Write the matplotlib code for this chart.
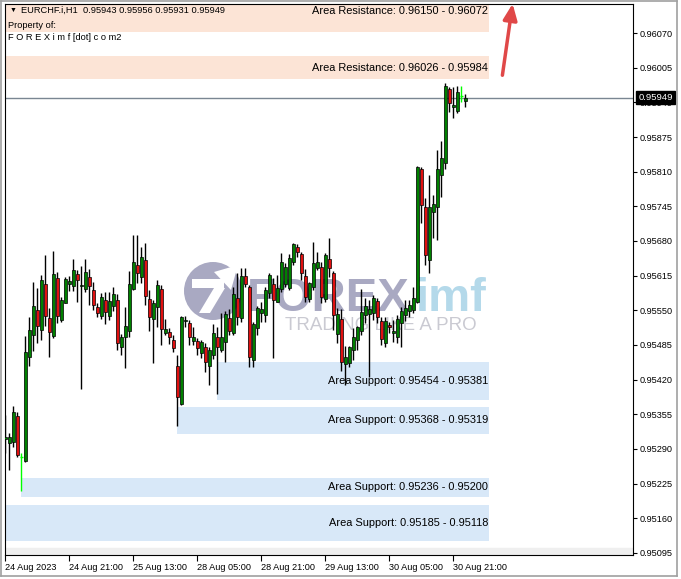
import matplotlib
matplotlib.use("Agg")
import matplotlib.pyplot as plt
import matplotlib.transforms as mtransforms
from matplotlib.patches import Rectangle, Circle, Polygon
from matplotlib.lines import Line2D

plt.rcParams["font.family"] = ["Liberation Sans", "DejaVu Sans"]

# EURCHF.i H1 candles
opens = [0.95309, 0.95301, 0.95303, 0.95352, 0.95275, 0.95268, 0.95463, 0.95504, 0.95551, 0.95513,
         0.95599, 0.95536, 0.95502, 0.95611, 0.95532, 0.95564, 0.95599, 0.95596, 0.95618, 0.95596,
         0.95590, 0.95612, 0.95588, 0.95556, 0.95539, 0.95569, 0.95539, 0.95558, 0.95569, 0.95481,
         0.95500, 0.95511, 0.95590, 0.95635, 0.95612, 0.95644, 0.95571, 0.95534, 0.95556, 0.95590,
         0.95508, 0.95509, 0.95494, 0.95446, 0.95374, 0.95530, 0.95526, 0.95493, 0.95493, 0.95470,
         0.95481, 0.95446, 0.95466, 0.95500, 0.95476, 0.95491, 0.95536, 0.95508, 0.95573, 0.95536,
         0.95614, 0.95594, 0.95457, 0.95517, 0.95545, 0.95541, 0.95583, 0.95599, 0.95566, 0.95590,
         0.95599, 0.95592, 0.95641, 0.95669, 0.95656, 0.95614, 0.95571, 0.95594, 0.95629, 0.95631,
         0.95571, 0.95646, 0.95620, 0.95506, 0.95534, 0.95449, 0.95451, 0.95476, 0.95494, 0.95511,
         0.95541, 0.95543, 0.95545, 0.95568, 0.95530, 0.95489, 0.95523, 0.95508, 0.95500, 0.95526,
         0.95541, 0.95549, 0.95551, 0.95566, 0.95815, 0.95744, 0.95644, 0.95734, 0.95744, 0.95804,
         0.95826, 0.95965, 0.95931, 0.95924, 0.95952, 0.95943]
highs = [0.95354, 0.95320, 0.95371, 0.95359, 0.95282, 0.95502, 0.95538, 0.95603, 0.95592, 0.95616,
         0.95654, 0.95554, 0.95661, 0.95622, 0.95575, 0.95612, 0.95614, 0.95646, 0.95626, 0.95633,
         0.95646, 0.95628, 0.95603, 0.95564, 0.95583, 0.95584, 0.95584, 0.95594, 0.95581, 0.95506,
         0.95556, 0.95624, 0.95691, 0.95691, 0.95669, 0.95676, 0.95588, 0.95569, 0.95607, 0.95598,
         0.95534, 0.95517, 0.95504, 0.95466, 0.95539, 0.95539, 0.95532, 0.95519, 0.95498, 0.95494,
         0.95489, 0.95481, 0.95524, 0.95519, 0.95545, 0.95549, 0.95553, 0.95594, 0.95620, 0.95629,
         0.95629, 0.95598, 0.95528, 0.95558, 0.95566, 0.95594, 0.95620, 0.95611, 0.95616, 0.95658,
         0.95639, 0.95656, 0.95676, 0.95674, 0.95659, 0.95628, 0.95603, 0.95678, 0.95659, 0.95641,
         0.95658, 0.95686, 0.95624, 0.95554, 0.95553, 0.95483, 0.95483, 0.95517, 0.95521, 0.95590,
         0.95573, 0.95569, 0.95579, 0.95573, 0.95538, 0.95538, 0.95528, 0.95532, 0.95541, 0.95556,
         0.95569, 0.95569, 0.95594, 0.95821, 0.95819, 0.95761, 0.95804, 0.95766, 0.95851, 0.95867,
         0.95976, 0.95969, 0.95969, 0.95971, 0.95971, 0.95956]
lows = [0.95282, 0.95251, 0.95294, 0.95275, 0.95211, 0.95266, 0.95446, 0.95474, 0.95489, 0.95494,
        0.95521, 0.95463, 0.95498, 0.95526, 0.95528, 0.95564, 0.95586, 0.95586, 0.95566, 0.95403,
        0.95584, 0.95560, 0.95551, 0.95538, 0.95534, 0.95524, 0.95532, 0.95549, 0.95476, 0.95466,
        0.95442, 0.95500, 0.95588, 0.95601, 0.95601, 0.95560, 0.95511, 0.95451, 0.95519, 0.95485,
        0.95504, 0.95487, 0.95472, 0.95333, 0.95373, 0.95519, 0.95485, 0.95485, 0.95466, 0.95461,
        0.95434, 0.95410, 0.95459, 0.95393, 0.95472, 0.95453, 0.95504, 0.95504, 0.95523, 0.95528,
        0.95594, 0.95444, 0.95444, 0.95504, 0.95528, 0.95528, 0.95573, 0.95461, 0.95566, 0.95584,
        0.95594, 0.95588, 0.95635, 0.95650, 0.95607, 0.95566, 0.95566, 0.95588, 0.95626, 0.95564,
        0.95566, 0.95612, 0.95513, 0.95489, 0.95436, 0.95410, 0.95444, 0.95457, 0.95476, 0.95504,
        0.95526, 0.95425, 0.95532, 0.95526, 0.95485, 0.95481, 0.95508, 0.95491, 0.95489, 0.95481,
        0.95530, 0.95538, 0.95545, 0.95564, 0.95714, 0.95635, 0.95620, 0.95686, 0.95682, 0.95762,
        0.95815, 0.95922, 0.95911, 0.95920, 0.95941, 0.95931]
closes = [0.95312, 0.95312, 0.95359, 0.95279, 0.95275, 0.95472, 0.95513, 0.95558, 0.95521, 0.95607,
          0.95539, 0.95509, 0.95618, 0.95539, 0.95569, 0.95609, 0.95605, 0.95626, 0.95607, 0.95598,
          0.95622, 0.95596, 0.95560, 0.95545, 0.95575, 0.95547, 0.95568, 0.95581, 0.95489, 0.95500,
          0.95521, 0.95599, 0.95641, 0.95620, 0.95650, 0.95577, 0.95538, 0.95564, 0.95598, 0.95515,
          0.95515, 0.95500, 0.95479, 0.95388, 0.95538, 0.95532, 0.95500, 0.95500, 0.95479, 0.95491,
          0.95453, 0.95476, 0.95508, 0.95481, 0.95500, 0.95543, 0.95511, 0.95581, 0.95538, 0.95614,
          0.95599, 0.95463, 0.95524, 0.95554, 0.95553, 0.95588, 0.95616, 0.95569, 0.95592, 0.95641,
          0.95631, 0.95648, 0.95674, 0.95659, 0.95620, 0.95575, 0.95601, 0.95639, 0.95641, 0.95575,
          0.95654, 0.95629, 0.95541, 0.95543, 0.95453, 0.95463, 0.95481, 0.95500, 0.95519, 0.95547,
          0.95558, 0.95553, 0.95573, 0.95538, 0.95496, 0.95530, 0.95519, 0.95511, 0.95534, 0.95549,
          0.95554, 0.95560, 0.95573, 0.95819, 0.95748, 0.95654, 0.95744, 0.95749, 0.95815, 0.95836,
          0.95971, 0.95939, 0.95935, 0.95959, 0.95952, 0.95949]

tick_idx = [0, 16, 32, 48, 64, 80, 96, 112]
tick_labels = ["24 Aug 2023", "24 Aug 21:00", "25 Aug 13:00", "28 Aug 05:00",
               "28 Aug 21:00", "29 Aug 13:00", "30 Aug 05:00", "30 Aug 21:00"]
price_ticks = [0.95095, 0.95160, 0.95225, 0.95290, 0.95355, 0.95420, 0.95485, 0.95550,
               0.95615, 0.95680, 0.95745, 0.95810, 0.95875, 0.95940, 0.96005, 0.96070]

res_zones = [(0.96150, 0.96072), (0.96026, 0.95984)]
sup_zones = [(0.95454, 0.95381), (0.95368, 0.95319), (0.95236, 0.95200), (0.95185, 0.95118)]
sup_start = [53, 43, 4, -5]
zone_end = 121
last_price = 0.95949

fig = plt.figure(figsize=(6.81, 5.79), dpi=100)
ax = fig.add_axes([4.5 / 681, 24 / 579, 628.5 / 681, 551 / 579])
ax.set_xlim(-0.2, 156.9)
ax.set_ylim(0.950912, 0.961244)

# image pixel coords (origin top-left) for the overlay bits
imgpx = mtransforms.Affine2D().scale(0.01, -0.01).translate(0, 5.79) + fig.dpi_scale_trans

# zones
for hi, lo in res_zones:
    ax.add_patch(Rectangle((-5, lo), zone_end + 5, hi - lo, facecolor="#fce4d6", edgecolor="none", zorder=1))
    ax.text(zone_end - 0.3, (hi + lo) / 2, "Area Resistance: %.5f - %.5f" % (hi, lo),
            ha="right", va="center", fontsize=7.9, zorder=6)
for (hi, lo), x0 in zip(sup_zones, sup_start):
    ax.add_patch(Rectangle((x0, lo), zone_end - x0, hi - lo, facecolor="#d8e8f8", edgecolor="none", zorder=1))
    ax.text(zone_end - 0.3, (hi + lo) / 2, "Area Support: %.5f - %.5f" % (hi, lo),
            ha="right", va="center", fontsize=7.9, zorder=6)
ax.axhspan(0.950912, 0.95104, color="#efefef", zorder=1)

# watermark
wm = "#a9a9c2"
ax.add_patch(Circle((213, 291), 29, transform=imgpx, facecolor=wm, edgecolor="none", zorder=2, clip_on=False))
ax.add_patch(Polygon([(192, 279), (224, 279), (224, 288), (192, 288)], transform=imgpx,
                     facecolor="white", edgecolor="none", zorder=2, clip_on=False))
ax.add_patch(Polygon([(214, 288), (225, 288), (210, 313), (199, 313)], transform=imgpx,
                     facecolor="white", edgecolor="none", zorder=2, clip_on=False))
ax.add_patch(Polygon([(214, 272), (238, 265), (231, 290)], transform=imgpx,
                     facecolor="white", edgecolor="none", zorder=2, clip_on=False))
ax.text(247, 311, "FOREX", transform=imgpx, fontsize=34, fontweight="bold", color=wm,
        ha="left", va="baseline", zorder=2)
ax.text(416, 311, "imf", transform=imgpx, fontsize=34, fontweight="bold", color="#b4d9ea",
        ha="left", va="baseline", zorder=2)
ax.text(285, 330, "TRADING LIKE A PRO", transform=imgpx, fontsize=13.5, color="#cacad2",
        ha="left", va="baseline", zorder=2)

# candles
for i in range(len(opens)):
    o, h, l, c = opens[i], highs[i], lows[i], closes[i]
    if o == c:
        ax.vlines(i, l, h, color="#00ff00", lw=1, zorder=3)
        ax.hlines(o, i - 0.45, i + 0.45, color="#00ff00", lw=1, zorder=3)
        continue
    ax.vlines(i, l, h, color="black", lw=1, zorder=3)
    ax.bar(i, abs(c - o), bottom=min(o, c), width=0.8,
           color="#008000" if c > o else "#e01010", edgecolor="black", linewidth=0.5, zorder=4)

# current price
ax.axhline(last_price, color="#7a8692", lw=1, zorder=2.5)
ax.text(1.0085, last_price, "%.5f" % last_price, transform=ax.get_yaxis_transform(),
        ha="left", va="center", fontsize=6.8, color="white", zorder=10, clip_on=False,
        bbox=dict(boxstyle="square,pad=0.2", facecolor="black", edgecolor="black"))

ax.yaxis.tick_right()
ax.set_yticks(price_ticks)
ax.set_yticklabels(["%.5f" % p for p in price_ticks])
ax.set_xticks(tick_idx)
ax.set_xticklabels(tick_labels, ha="left")
ax.tick_params(axis="y", direction="out", length=3, width=0.8, pad=2, labelsize=6.6)
ax.tick_params(axis="x", direction="out", length=4, width=0.8, pad=2, labelsize=6.6)
for s in ax.spines.values():
    s.set_color("black")
    s.set_linewidth(0.8)

# header
ax.text(13, 10, "\u25bc", transform=imgpx, fontsize=5, ha="center", va="center", zorder=7)
ax.text(21, 10, "EURCHF.i,H1  0.95943 0.95956 0.95931 0.95949", transform=imgpx,
        fontsize=6.7, ha="left", va="center", zorder=7)
ax.text(8, 25, "Property of:", transform=imgpx, fontsize=6.7, ha="left", va="center", zorder=7)
ax.text(8, 37, "F O R E X i m f [dot] c o m2", transform=imgpx, fontsize=6.7,
        ha="left", va="center", zorder=7)

# red arrow
ax.annotate("", xy=(513, 1), xytext=(502, 78), xycoords=imgpx, textcoords=imgpx,
            arrowprops=dict(arrowstyle="-|>,head_length=0.8,head_width=0.35", mutation_scale=12,
                            color="#e04848", lw=2.5), annotation_clip=False, zorder=10)

# window border
for xs, ys in [([1, 677], [0.5, 0.5]), ([1, 1], [0.5, 576]), ([677, 677], [0.5, 576]), ([1, 677], [576, 576])]:
    fig.add_artist(Line2D(xs, ys, transform=imgpx, color="#a0a0a0", lw=1.2))

fig.savefig("out.png", dpi=100)
